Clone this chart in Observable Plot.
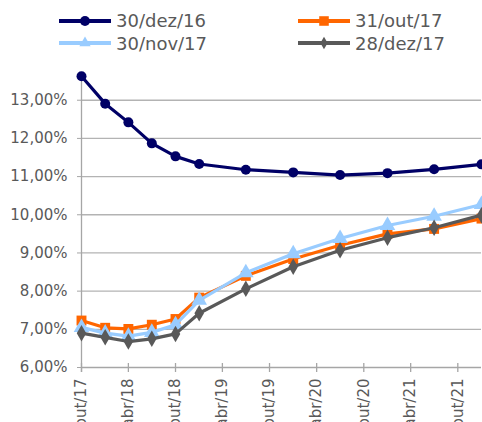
<!DOCTYPE html>
<html>
<head>
<meta charset="utf-8">
<script src="https://cdn.jsdelivr.net/npm/d3@7"></script>
<script src="https://cdn.jsdelivr.net/npm/@observablehq/plot@0.6"></script>
<style>
  html, body { margin: 0; padding: 0; background: #fff; }
  body { width: 482px; height: 422px; overflow: hidden; font-family: "DejaVu Sans", Verdana, sans-serif; }
  #legend { position: relative; height: 56px; width: 482px; }
  .item { position: absolute; display: flex; align-items: center; font-size: 18px; color: #595959; height: 22px; }
  .item svg { margin-right: 4px; }
  #chart svg { display: block; }
</style>
</head>
<body>
<div id="legend"></div>
<div id="chart"></div>
<script>
const seriesNames = ["30/dez/16", "31/out/17", "30/nov/17", "28/dez/17"];
const seriesColors = ["#000066", "#ff6600", "#99ccff", "#595959"];
const seriesSymbols = ["circle", "square", "triangle", "diamond"];
const pointDates = ["2017-10-01", "2018-01-01", "2018-04-01", "2018-07-01", "2018-10-01", "2019-01-01",
                    "2019-07-01", "2020-01-01", "2020-07-01", "2021-01-01", "2021-07-01", "2022-01-01"];
const dez16 = [13.63, 12.91, 12.42, 11.87, 11.53, 11.33, 11.18, 11.11, 11.04, 11.09, 11.19, 11.32];
const out17 = [7.23, 7.04, 7.01, 7.12, 7.27, 7.83, 8.40, 8.84, 9.20, 9.50, 9.63, 9.90];
const nov17 = [7.05, 6.90, 6.82, 6.92, 7.12, 7.76, 8.48, 8.98, 9.38, 9.72, 9.96, 10.27];
const dez17 = [6.90, 6.79, 6.68, 6.75, 6.88, 7.42, 8.06, 8.64, 9.07, 9.40, 9.66, 9.99];
const xTickDates = ["2017-10-01", "2018-04-01", "2018-10-01", "2019-04-01", "2019-10-01",
                    "2020-04-01", "2020-10-01", "2021-04-01", "2021-10-01"];
const xTickLabels = ["out/17", "abr/18", "out/18", "abr/19", "out/19", "abr/20", "out/20", "abr/21", "out/21"];
const yTicks = [6, 7, 8, 9, 10, 11, 12, 13];
const xDomain = ["2017-10-01", "2022-01-01"];
const yDomain = [6, 13.7];

const allValues = [dez16, out17, nov17, dez17];
const data = [];
allValues.forEach((vals, s) => {
  vals.forEach((v, i) => data.push({series: seriesNames[s], date: new Date(pointDates[i]), value: v}));
});
const tickDates = xTickDates.map(d => new Date(d));
const labelMap = new Map(tickDates.map((d, i) => [+d, xTickLabels[i]]));
const markerR = {circle: 5, square: 5.6, triangle: 5.8, diamond: 5};
const legendR = {circle: 5, square: 5.4, triangle: 4.2, diamond: 3.8};

const lineMarks = [];
seriesNames.forEach((name, s) => {
  const sub = data.filter(d => d.series === name);
  lineMarks.push(Plot.line(sub, {x: "date", y: "value", stroke: seriesColors[s], strokeWidth: 3.2}));
  lineMarks.push(Plot.dot(sub, {x: "date", y: "value", fill: seriesColors[s], stroke: "none", symbol: seriesSymbols[s], r: markerR[seriesSymbols[s]]}));
});

const chart = Plot.plot({
  width: 482, height: 366,
  marginLeft: 81, marginRight: 1, marginTop: 17, marginBottom: 55,
  style: {fontFamily: "'DejaVu Sans', Verdana, sans-serif", fontSize: "15px", color: "#595959", background: "#fff"},
  x: {type: "utc", domain: xDomain.map(d => new Date(d))},
  y: {domain: yDomain},
  marks: [
    Plot.gridY(yTicks.filter(t => t > 6), {stroke: "#b3b3b3", strokeOpacity: 1, strokeWidth: 1.3}),
    Plot.ruleX([new Date(xDomain[0])], {stroke: "#a6a6a6", strokeWidth: 1.3, insetBottom: -5}),
    Plot.ruleY([6], {stroke: "#a6a6a6", strokeWidth: 1.3}),
    Plot.ruleX(tickDates, {y1: 6, y2: 6, insetTop: -4, insetBottom: -5, stroke: "#a6a6a6", strokeWidth: 1.3}),
    Plot.axisY({ticks: yTicks, tickFormat: d => d.toFixed(2).replace(".", ",") + "%", tickSize: 4, tickPadding: 10, stroke: "#a6a6a6", fill: "#595959", label: null}),
    Plot.axisX({ticks: tickDates, tickFormat: d => labelMap.get(+d), tickRotate: -90, tickSize: 0, tickPadding: 11, fill: "#595959", label: null}),
    ...lineMarks
  ]
});
document.getElementById("chart").appendChild(chart);

// legend
const legendPos = [[59, 20.7], [298, 20.7], [59, 43.3], [298, 43.3]];
const legend = document.getElementById("legend");
seriesNames.forEach((name, s) => {
  const [lx, ly] = legendPos[s];
  const div = document.createElement("div");
  div.className = "item";
  div.style.left = lx + "px";
  div.style.top = (ly - 11) + "px";
  const sym = d3.symbol().type({circle: d3.symbolCircle, square: d3.symbolSquare, triangle: d3.symbolTriangle, diamond: d3.symbolDiamond}[seriesSymbols[s]])
    .size(Math.PI * legendR[seriesSymbols[s]] ** 2);
  div.innerHTML = `<svg width="53" height="22"><line x1="0" x2="52" y1="11" y2="11" stroke="${seriesColors[s]}" stroke-width="4"/>` +
    `<path transform="translate(26,11)" d="${sym()}" fill="${seriesColors[s]}"/></svg><span>${name}</span>`;
  legend.appendChild(div);
});
</script>
</body>
</html>
